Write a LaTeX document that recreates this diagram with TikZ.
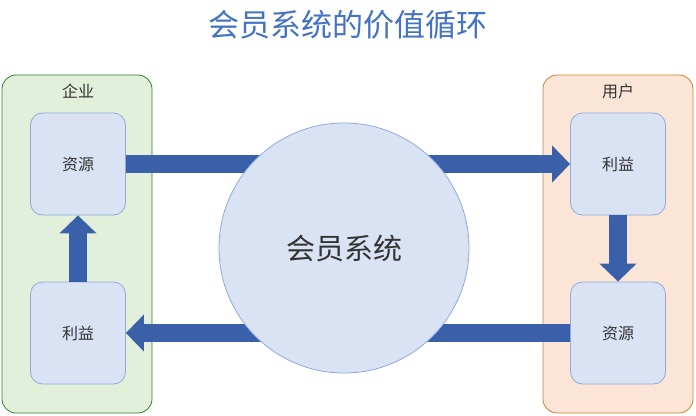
\documentclass[tikz,border=0pt]{standalone}
\usepackage{fontspec}
\setmainfont{Noto Sans CJK SC}
\usetikzlibrary{arrows.meta}
\definecolor{dblue}{RGB}{68,114,196}
\definecolor{ablue}{RGB}{58,96,170}
\definecolor{lblue}{RGB}{218,227,243}
\definecolor{bblue}{RGB}{143,170,220}
\definecolor{lgreen}{RGB}{226,239,218}
\definecolor{lorange}{RGB}{251,229,214}
\tikzset{
 panel/.style={rounded corners=14pt,draw=#1!60!gray,line width=0.8pt},
 box/.style={rounded corners=12pt,draw=bblue,fill=lblue,line width=0.8pt,minimum width=95pt,minimum height=102pt,font=\fontsize{16}{19}\selectfont,text=black!80},
 flow/.style={draw=ablue,line width=18pt,-{Triangle[width=36pt,length=18pt]}},
 lbl/.style={font=\fontsize{16}{19}\selectfont,text=black!80}
}
\begin{document}
\begin{tikzpicture}[x=1pt,y=-1pt]
\useasboundingbox (0,0) rectangle (696,415);
\node[font=\fontsize{31}{36}\selectfont,text=dblue] (title) at (348,25) {会员系统的价值循环};
\draw[panel=green!50!black,fill=lgreen] (2,75) rectangle (152,413);
\draw[panel=orange,fill=lorange] (543,75) rectangle (693,413);
\node[lbl] (qy) at (78,91) {企业};
\node[lbl] (yh) at (618,91) {用户};
\node[box] (lz) at (78,164) {资源};
\node[box] (ll) at (78,333) {利益};
\node[box] (rl) at (618,164) {利益};
\node[box] (rz) at (618,333) {资源};
\draw[flow] (lz.east) -- (rl.west);
\draw[flow] (rz.west) -- (ll.east);
\draw[flow] (rl.south) -- (rz.north);
\draw[flow] (ll.north) -- (lz.south);
\node[circle,draw=bblue,fill=lblue,line width=0.8pt,minimum size=250pt,font=\fontsize{29}{34}\selectfont,text=black!80] (hy) at (344,248) {会员系统};
\end{tikzpicture}
\end{document}
